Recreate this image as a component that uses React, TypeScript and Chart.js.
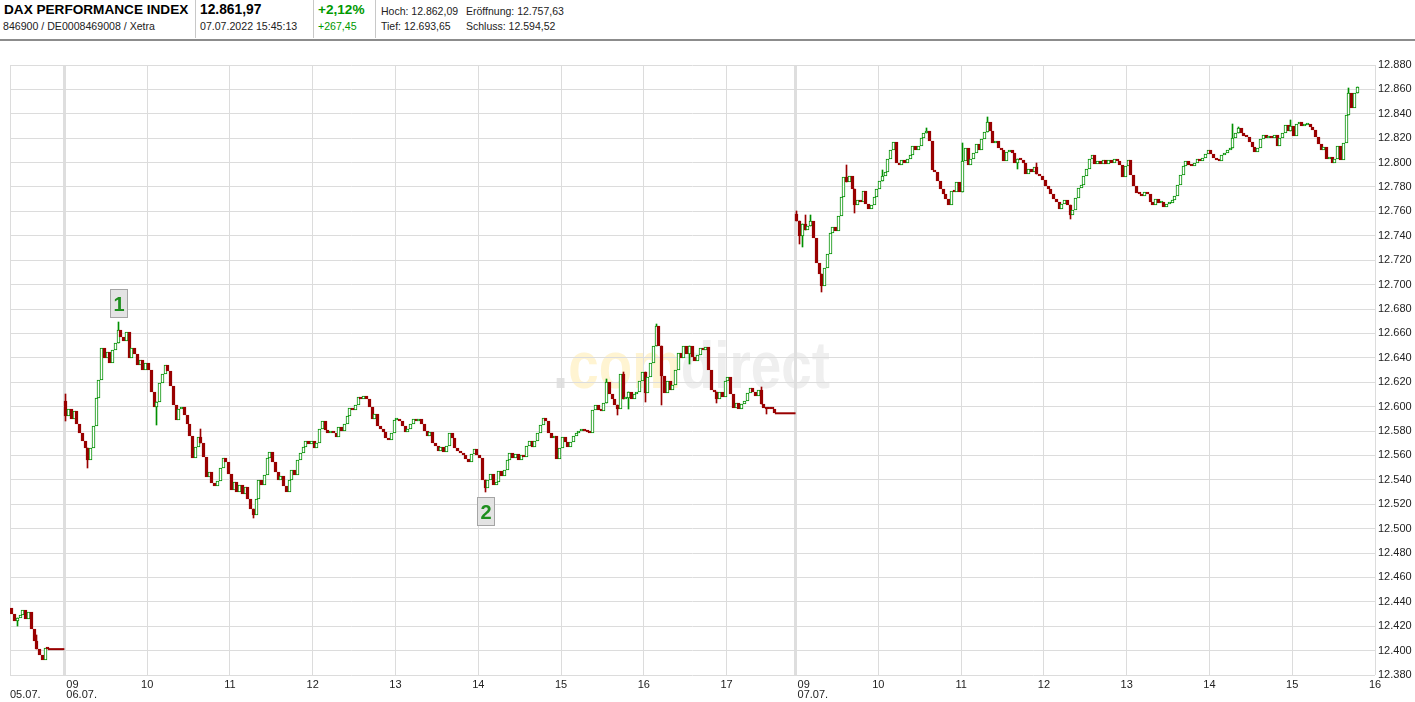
import { useEffect, useRef } from "react";
import { Chart, registerables } from "chart.js";

Chart.register(...registerables);

// ---------------- header texts ----------------
const titleText = "DAX PERFORMANCE INDEX";
const idText = "846900 / DE0008469008 / Xetra";
const lastText = "12.861,97";
const timeText = "07.07.2022 15:45:13";
const pctText = "+2,12%";
const diffText = "+267,45";
const hochText = "Hoch: 12.862,09";
const eroeffText = "Eröffnung: 12.757,63";
const tiefText = "Tief: 12.693,65";
const schlussText = "Schluss: 12.594,52";

// ---------------- axis ----------------
// x values are minutes after 06.07. 09:00, each trading day shown from 09:00 to 17:50 (530 min)
const X_MIN = -39.4;
const X_MAX = 950;
const xTickValues = [0, 60, 120, 180, 240, 300, 360, 420, 480, 530, 590, 650, 710, 770, 830, 890, 950];
const xTickHours = ["09", "10", "11", "12", "13", "14", "15", "16", "17", "09", "10", "11", "12", "13", "14", "15", "16"];
const xTickDays = ["06.07.", "", "", "", "", "", "", "", "", "07.07.", "", "", "", "", "", "", ""];
const dayStartValues = [0, 530];
const leftDayLabel = "05.07.";
const yTickValues = [12380, 12400, 12420, 12440, 12460, 12480, 12500, 12520, 12540, 12560, 12580, 12600, 12620,
  12640, 12660, 12680, 12700, 12720, 12740, 12760, 12780, 12800, 12820, 12840, 12860, 12880];

// ---------------- 2-minute candles ----------------
const CANDLE_STEP = 2;

const start0507 = -38;
const open0507 = 12435;
const close0507 = [12430, 12424, 12427, 12429, 12433, 12426, 12432, 12418, 12408, 12401, 12396, 12392, 12402, 12401.2];
const wicks0507: [number, number | null, number | null][] = [[2, null, 12420], [9, 12413, null]];
const flat0507 = [-12, 0];
const flatValue0507 = 12401.2;

const start0607 = 1;
const open0607 = 12605;
const close0607 = [
  12592, 12598, 12590, 12596, 12586, 12578, 12572, 12566, 12556, 12566, 12584, 12607, 12622, 12648, 12640, 12645, 12636, 12646, 12652, 12663, 12657, 12654, 12661, 12640, 12648, 12643, 12634, 12638, 12630, 12636,
  12630, 12612, 12600, 12604, 12619, 12627, 12634, 12629, 12617, 12601, 12589, 12598, 12600, 12593, 12586, 12576, 12558, 12567, 12575, 12570, 12559, 12542, 12546, 12537, 12535, 12539, 12550, 12558, 12555, 12545,
  12532, 12538, 12530, 12536, 12528, 12534, 12524, 12516, 12511, 12524, 12540, 12536, 12544, 12558, 12563, 12555, 12546, 12540, 12543, 12535, 12530, 12540, 12548, 12544, 12556, 12562, 12567, 12572, 12569, 12572,
  12566, 12570, 12582, 12588, 12581, 12578, 12580, 12578, 12575, 12583, 12580, 12586, 12592, 12599, 12597, 12601, 12608, 12606, 12609, 12606, 12600, 12590, 12594, 12584, 12582, 12579, 12574, 12573, 12578, 12589,
  12590, 12588, 12584, 12579, 12582, 12586, 12590, 12588, 12590, 12586, 12580, 12576, 12579, 12570, 12568, 12564, 12567, 12563, 12568, 12578, 12574, 12566, 12564, 12562, 12560, 12557, 12555, 12561, 12565, 12560,
  12558, 12540, 12533, 12540, 12545, 12536, 12538, 12547, 12543, 12548, 12556, 12562, 12558, 12561, 12556, 12560, 12559, 12568, 12572, 12567, 12572, 12578, 12585, 12591, 12588, 12578, 12574, 12576, 12557, 12566,
  12575, 12571, 12567, 12571, 12576, 12578, 12580, 12582, 12580, 12579, 12578, 12597, 12601, 12597, 12596, 12603, 12620, 12610, 12606, 12601, 12598, 12627, 12606, 12607, 12612, 12606, 12610, 12612, 12621, 12628,
  12611, 12624, 12636, 12650, 12666, 12650, 12625, 12611, 12621, 12614, 12618, 12630, 12644, 12640, 12650, 12643, 12650, 12641, 12637, 12642, 12648, 12646, 12649, 12630, 12614, 12612, 12606, 12612, 12608, 12621,
  12624, 12610, 12599, 12603, 12598, 12602, 12605, 12611, 12615, 12612, 12609, 12614, 12602, 12599, 12598, 12598, 12598, 12594.52,
];
const wicks0607: [number, number | null, number | null][] = [
  [0, 12610, 12588], [8, null, 12550], [19, 12669, null], [33, null, 12585], [49, 12582, null], [68, null, 12509],
  [152, null, 12530], [196, 12623, null], [200, null, 12593], [202, 12628, null], [204, null, 12598], [210, null, 12604],
  [214, 12668, null], [216, null, 12601], [226, null, 12635], [236, null, 12603], [252, 12616, null], [254, null, 12594],
];
const flat0607 = [515, 530];
const flatValue0607 = 12594.52;

const start0707 = 531;
const open0707 = 12757.63;
const close0707 = [
  12752, 12740, 12750, 12745, 12748, 12752, 12738, 12718, 12709, 12699, 12714, 12725, 12742, 12747, 12744, 12756, 12772, 12788, 12784, 12789, 12778, 12765, 12769, 12768, 12777, 12766, 12762, 12765, 12772, 12778,
  12785, 12789, 12792, 12803, 12810, 12817, 12800, 12798, 12802, 12800, 12803, 12806, 12814, 12810, 12814, 12820, 12824, 12826, 12818, 12794, 12792, 12785, 12778, 12774, 12770, 12765, 12777, 12776, 12784, 12776,
  12801, 12812, 12798, 12803, 12808, 12815, 12810, 12819, 12825, 12833, 12826, 12816, 12818, 12812, 12810, 12801, 12809, 12810, 12808, 12800, 12803, 12802, 12800, 12791, 12795, 12792, 12796, 12791, 12789, 12786,
  12781, 12778, 12774, 12770, 12768, 12762, 12766, 12769, 12765, 12757, 12761, 12771, 12779, 12782, 12789, 12795, 12803, 12806, 12799, 12801, 12799, 12802, 12799, 12802, 12800, 12803, 12801, 12798, 12788, 12797,
  12802, 12790, 12781, 12775, 12774, 12773, 12776, 12774, 12768, 12765, 12770, 12767, 12768, 12764, 12766, 12767, 12769, 12773, 12782, 12790, 12797, 12801, 12798, 12797, 12800, 12803, 12801, 12804, 12807, 12810,
  12807, 12804, 12802, 12801, 12806, 12808, 12810, 12812, 12820, 12824, 12828, 12824, 12822, 12821, 12817, 12813, 12809, 12812, 12819, 12823, 12820, 12822, 12820, 12823, 12814, 12820, 12824, 12831, 12826, 12830,
  12822, 12832, 12833, 12830, 12831, 12832, 12829, 12827, 12821, 12815, 12810, 12813, 12803, 12805, 12800, 12803, 12814, 12802, 12816, 12839, 12857, 12845, 12857, 12861.97,
];
const wicks0707: [number, number | null, number | null][] = [
  [0, 12760, null], [1, null, 12733], [2, null, 12731], [3, 12757, null], [5, 12757, null], [9, null, 12693.65],
  [18, 12798, null], [21, null, 12759], [31, 12794, null], [47, 12828, null], [60, 12816, null], [69, 12837, null],
  [80, null, 12795], [87, 12800, null], [99, null, 12754], [158, 12832, null], [160, 12829, null], [179, 12835, null],
  [200, 12861, null], [203, 12862.09, null],
];

// markers: "1" above 06.07 candle 19 high, "2" below 06.07 candle 152 low
const markerLabels = ["1", "2"];
const markerCandles = [19, 152];

// ---------------- styles ----------------
const GREEN = "#009000";
const RED = "#990000";
const GRID = "#dcdcdc";
const FONT = '"Liberation Sans", Arial, Helvetica, sans-serif';

type Candle = { x: number; o: number; c: number };

function buildCandles(start: number, open: number, closes: number[]): Candle[] {
  const out: Candle[] = [];
  let o = open;
  closes.forEach((c, i) => {
    out.push({ x: start + i * CANDLE_STEP, o, c });
    o = c;
  });
  return out;
}

export default function App() {
  const canvasRef = useRef<HTMLCanvasElement | null>(null);

  useEffect(() => {
    const canvas = canvasRef.current;
    if (!canvas) return;

    const c0507 = buildCandles(start0507, open0507, close0507);
    const c0607 = buildCandles(start0607, open0607, close0607);
    const c0707 = buildCandles(start0707, open0707, close0707);
    const all = [...c0507, ...c0607, ...c0707];
    const up = (cd: Candle) => cd.c > cd.o;

    const wickData: any[] = [];
    const wickColors: string[] = [];
    const addWicks = (cs: Candle[], ws: [number, number | null, number | null][]) => {
      ws.forEach(([k, h, l]) => {
        const cd = cs[k];
        const hi = h ?? Math.max(cd.o, cd.c);
        const lo = l ?? Math.min(cd.o, cd.c);
        wickData.push({ x: cd.x, y: [lo, hi] });
        wickColors.push(up(cd) ? GREEN : RED);
      });
    };
    addWicks(c0507, wicks0507);
    addWicks(c0607, wicks0607);
    addWicks(c0707, wicks0707);

    // snap bar elements to whole pixels so the thin candles stay crisp
    const snapPlugin = {
      id: "snap",
      beforeDatasetsDraw(chart: any) {
        chart.data.datasets.forEach((_ds: any, i: number) => {
          const meta = chart.getDatasetMeta(i);
          if (meta.type !== "bar") return;
          meta.data.forEach((el: any) => {
            el.x = Math.floor(el.x) + 0.5;
            el.y = Math.round(el.y);
            el.base = Math.round(el.base);
          });
        });
      },
    };

    const xLabelPlugin = {
      id: "xLabels",
      afterDraw(chart: any) {
        const { ctx } = chart;
        const xs = chart.scales.x;
        ctx.save();
        ctx.font = `11px ${FONT}`;
        ctx.fillStyle = "#222";
        ctx.textBaseline = "alphabetic";
        xTickValues.forEach((v, i) => {
          const px = xs.getPixelForValue(v);
          if (xTickDays[i]) {
            ctx.textAlign = "left";
            ctx.fillText(xTickHours[i], px + 2, 688);
            ctx.fillText(xTickDays[i], px + 2, 698);
          } else {
            ctx.textAlign = "center";
            ctx.fillText(xTickHours[i], px, 688);
          }
        });
        ctx.textAlign = "left";
        ctx.fillText(leftDayLabel, xs.getPixelForValue(X_MIN), 698);
        ctx.restore();
      },
    };

    const watermarkPlugin = {
      id: "watermark",
      beforeDraw(chart: any) {
        const { ctx } = chart;
        ctx.save();
        ctx.font = `bold 66px ${FONT}`;
        const parts: [string, string][] = [[".", "#e2e2e2"], ["com", "#fff4d2"], ["direct", "#efefef"]];
        const total = parts.reduce((s, p) => s + ctx.measureText(p[0]).width, 0);
        ctx.translate(553, 388);
        ctx.scale(277 / total, 1);
        let cx = 0;
        parts.forEach(([t, col]) => {
          ctx.fillStyle = col;
          ctx.fillText(t, cx, 0);
          cx += ctx.measureText(t).width;
        });
        ctx.restore();
      },
    };

    const markerPlugin = {
      id: "markers",
      afterDatasetsDraw(chart: any) {
        const { ctx } = chart;
        const xs = chart.scales.x;
        const ys = chart.scales.y;
        markerCandles.forEach((k, i) => {
          const cd = c0607[k];
          const w = wicks0607.find((e) => e[0] === k);
          const above = i === 0;
          const v = above ? (w && w[1] != null ? w[1] : Math.max(cd.o, cd.c)) : (w && w[2] != null ? w[2] : Math.min(cd.o, cd.c));
          const px = xs.getPixelForValue(cd.x);
          const py = ys.getPixelForValue(v);
          const bw = 17;
          const bh = 28;
          const top = above ? py - 5 - bh : py + 5;
          const left = Math.round(px - bw / 2) + 0.5;
          ctx.save();
          ctx.fillStyle = "#e3e3e3";
          ctx.strokeStyle = "#a5a5a5";
          ctx.lineWidth = 1;
          ctx.fillRect(left, Math.round(top) + 0.5, bw, bh);
          ctx.strokeRect(left, Math.round(top) + 0.5, bw, bh);
          ctx.fillStyle = "#1f8f1f";
          ctx.font = `bold 20px ${FONT}`;
          ctx.textAlign = "center";
          ctx.textBaseline = "middle";
          ctx.fillText(markerLabels[i], left + bw / 2, Math.round(top) + bh / 2 + 2);
          ctx.restore();
        });
      },
    };

    const chart = new Chart(canvas, {
      type: "bar",
      data: {
        datasets: [
          {
            type: "bar",
            data: all.map((cd) => ({ x: cd.x, y: [cd.o, cd.c] })) as any,
            backgroundColor: all.map((cd) => (up(cd) ? "#ffffff" : RED)),
            borderColor: all.map((cd) => (up(cd) ? GREEN : RED)),
            borderWidth: 1,
            borderSkipped: false,
            barThickness: 3,
            minBarLength: 2,
            grouped: false,
            order: 0,
          } as any,
          {
            type: "bar",
            data: wickData,
            backgroundColor: wickColors,
            borderWidth: 0,
            barThickness: 1,
            grouped: false,
            order: 1,
          } as any,
          {
            type: "line",
            data: [
              { x: flat0507[0], y: flatValue0507 },
              { x: flat0507[1], y: flatValue0507 },
            ],
            borderColor: RED,
            borderWidth: 2,
            pointRadius: 0,
            order: 2,
          } as any,
          {
            type: "line",
            data: [
              { x: flat0607[0], y: flatValue0607 },
              { x: flat0607[1], y: flatValue0607 },
            ],
            borderColor: RED,
            borderWidth: 2,
            pointRadius: 0,
            order: 2,
          } as any,
        ],
      },
      options: {
        animation: false,
        responsive: false,
        maintainAspectRatio: false,
        events: [],
        layout: { padding: { left: 10, top: 65, right: 0, bottom: 0 } },
        plugins: { legend: { display: false }, tooltip: { enabled: false } },
        scales: {
          x: {
            type: "linear",
            min: X_MIN,
            max: X_MAX,
            offset: false,
            afterBuildTicks: (s: any) => {
              s.ticks = [X_MIN, ...xTickValues].map((v) => ({ value: v }));
            },
            afterFit: (s: any) => {
              s.height = 27;
            },
            ticks: { display: false },
            border: { display: false },
            grid: {
              offset: false,
              drawTicks: false,
              color: (ctx: any) => (dayStartValues.includes(ctx.tick?.value) ? "#dedede" : GRID),
              lineWidth: (ctx: any) => (dayStartValues.includes(ctx.tick?.value) ? 3 : 1),
            },
          },
          y: {
            type: "linear",
            position: "right",
            min: 12380,
            max: 12880,
            afterBuildTicks: (s: any) => {
              s.ticks = yTickValues.map((v) => ({ value: v }));
            },
            afterFit: (s: any) => {
              s.width = 40;
            },
            border: { display: false },
            grid: { color: GRID, lineWidth: 1, drawTicks: false },
            ticks: {
              autoSkip: false,
              padding: 3,
              color: "#222",
              font: { family: FONT, size: 11 },
              callback: (v: any) => {
                const n = Math.round(Number(v));
                return `${Math.floor(n / 1000)}.${String(n % 1000).padStart(3, "0")}`;
              },
            },
          },
        },
      } as any,
      plugins: [snapPlugin, watermarkPlugin, markerPlugin, xLabelPlugin],
    });

    return () => chart.destroy();
  }, []);

  const abs = (s: any) => ({ position: "absolute" as const, whiteSpace: "nowrap" as const, lineHeight: 1, ...s });

  return (
    <div style={{ position: "absolute", left: 0, top: 0, width: 1415, height: 702, background: "#fff", fontFamily: FONT, overflow: "hidden" }}>
      <div style={abs({ left: 4, top: 3, fontSize: 13.6, fontWeight: "bold", color: "#000" })}>{titleText}</div>
      <div style={abs({ left: 3, top: 21, fontSize: 10.6, color: "#222" })}>{idText}</div>
      <div style={{ position: "absolute", left: 195, top: 0, width: 1, height: 38, background: "#c8c8c8" }} />
      <div style={abs({ left: 200, top: 3, fontSize: 13.8, fontWeight: "bold", color: "#000" })}>{lastText}</div>
      <div style={abs({ left: 200, top: 21, fontSize: 10.6, color: "#222" })}>{timeText}</div>
      <div style={{ position: "absolute", left: 313, top: 0, width: 1, height: 38, background: "#c8c8c8" }} />
      <div style={abs({ left: 318, top: 3, fontSize: 13.6, fontWeight: "bold", color: "#009900" })}>{pctText}</div>
      <div style={abs({ left: 318, top: 21, fontSize: 10.6, color: "#009900" })}>{diffText}</div>
      <div style={{ position: "absolute", left: 375, top: 0, width: 1, height: 38, background: "#c8c8c8" }} />
      <div style={abs({ left: 381, top: 6, fontSize: 10.5, color: "#222" })}>{hochText}</div>
      <div style={abs({ left: 466, top: 6, fontSize: 10.5, color: "#222" })}>{eroeffText}</div>
      <div style={abs({ left: 381, top: 21, fontSize: 10.5, color: "#222" })}>{tiefText}</div>
      <div style={abs({ left: 466, top: 21, fontSize: 10.5, color: "#222" })}>{schlussText}</div>
      <div style={{ position: "absolute", left: 0, top: 39, width: 1415, height: 2, background: "#8c8c8c" }} />
      <canvas ref={canvasRef} width={1415} height={702} style={{ position: "absolute", left: 0, top: 0, width: 1415, height: 702 }} />
    </div>
  );
}
